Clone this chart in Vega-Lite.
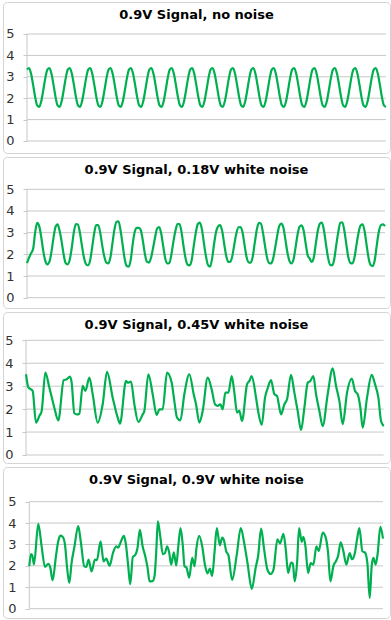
{
"$schema":"https://vega.github.io/schema/vega-lite/v6.json",
"padding":{"left":2,"top":1,"right":0,"bottom":2},
"spacing":2,
"config":{
 "view":{"stroke":"#d4d4d4","strokeWidth":1,"cornerRadius":4},
 "font":"DejaVu Sans",
 "title":{"font":"DejaVu Sans","fontSize":13,"fontWeight":"bold","color":"#000000","anchor":"middle","frame":"group","offset":-20,"baseline":"alphabetic"},
 "axis":{"labelFont":"DejaVu Sans","labelFontSize":13,"labelColor":"#333333","domain":false,"grid":false,"ticks":true,"tickSize":4,"tickColor":"#c8c8c8","labelPadding":9}
},
"datasets":{
"grid":[{"g":0},{"g":1},{"g":2},{"g":3},{"g":4},{"g":5}],
"p1":[{"t":0,"v":3.34},{"t":1,"v":3.41},{"t":2,"v":3.14},{"t":3,"v":2.62},{"t":4,"v":2.05},{"t":5,"v":1.66},{"t":6,"v":1.59},{"t":7,"v":1.86},{"t":8,"v":2.38},{"t":9,"v":2.95},
{"t":10,"v":3.34},{"t":11,"v":3.41},{"t":12,"v":3.14},{"t":13,"v":2.62},{"t":14,"v":2.05},{"t":15,"v":1.66},{"t":16,"v":1.59},{"t":17,"v":1.86},{"t":18,"v":2.38},{"t":19,"v":2.95},
{"t":20,"v":3.34},{"t":21,"v":3.41},{"t":22,"v":3.14},{"t":23,"v":2.62},{"t":24,"v":2.05},{"t":25,"v":1.66},{"t":26,"v":1.59},{"t":27,"v":1.86},{"t":28,"v":2.38},{"t":29,"v":2.95},
{"t":30,"v":3.34},{"t":31,"v":3.41},{"t":32,"v":3.14},{"t":33,"v":2.62},{"t":34,"v":2.05},{"t":35,"v":1.66},{"t":36,"v":1.59},{"t":37,"v":1.86},{"t":38,"v":2.38},{"t":39,"v":2.95},
{"t":40,"v":3.34},{"t":41,"v":3.41},{"t":42,"v":3.14},{"t":43,"v":2.62},{"t":44,"v":2.05},{"t":45,"v":1.66},{"t":46,"v":1.59},{"t":47,"v":1.86},{"t":48,"v":2.38},{"t":49,"v":2.95},
{"t":50,"v":3.34},{"t":51,"v":3.41},{"t":52,"v":3.14},{"t":53,"v":2.62},{"t":54,"v":2.05},{"t":55,"v":1.66},{"t":56,"v":1.59},{"t":57,"v":1.86},{"t":58,"v":2.38},{"t":59,"v":2.95},
{"t":60,"v":3.34},{"t":61,"v":3.41},{"t":62,"v":3.14},{"t":63,"v":2.62},{"t":64,"v":2.05},{"t":65,"v":1.66},{"t":66,"v":1.59},{"t":67,"v":1.86},{"t":68,"v":2.38},{"t":69,"v":2.95},
{"t":70,"v":3.34},{"t":71,"v":3.41},{"t":72,"v":3.14},{"t":73,"v":2.62},{"t":74,"v":2.05},{"t":75,"v":1.66},{"t":76,"v":1.59},{"t":77,"v":1.86},{"t":78,"v":2.38},{"t":79,"v":2.95},
{"t":80,"v":3.34},{"t":81,"v":3.41},{"t":82,"v":3.14},{"t":83,"v":2.62},{"t":84,"v":2.05},{"t":85,"v":1.66},{"t":86,"v":1.59},{"t":87,"v":1.86},{"t":88,"v":2.38},{"t":89,"v":2.95},
{"t":90,"v":3.34},{"t":91,"v":3.41},{"t":92,"v":3.14},{"t":93,"v":2.62},{"t":94,"v":2.05},{"t":95,"v":1.66},{"t":96,"v":1.59},{"t":97,"v":1.86},{"t":98,"v":2.38},{"t":99,"v":2.95},
{"t":100,"v":3.34},{"t":101,"v":3.41},{"t":102,"v":3.14},{"t":103,"v":2.62},{"t":104,"v":2.05},{"t":105,"v":1.66},{"t":106,"v":1.59},{"t":107,"v":1.86},{"t":108,"v":2.38},{"t":109,"v":2.95},
{"t":110,"v":3.34},{"t":111,"v":3.41},{"t":112,"v":3.14},{"t":113,"v":2.62},{"t":114,"v":2.05},{"t":115,"v":1.66},{"t":116,"v":1.59},{"t":117,"v":1.86},{"t":118,"v":2.38},{"t":119,"v":2.95},
{"t":120,"v":3.34},{"t":121,"v":3.41},{"t":122,"v":3.14},{"t":123,"v":2.62},{"t":124,"v":2.05},{"t":125,"v":1.66},{"t":126,"v":1.59},{"t":127,"v":1.86},{"t":128,"v":2.38},{"t":129,"v":2.95},
{"t":130,"v":3.34},{"t":131,"v":3.41},{"t":132,"v":3.14},{"t":133,"v":2.62},{"t":134,"v":2.05},{"t":135,"v":1.66},{"t":136,"v":1.59},{"t":137,"v":1.86},{"t":138,"v":2.38},{"t":139,"v":2.95},
{"t":140,"v":3.34},{"t":141,"v":3.41},{"t":142,"v":3.14},{"t":143,"v":2.62},{"t":144,"v":2.05},{"t":145,"v":1.66},{"t":146,"v":1.59},{"t":147,"v":1.86},{"t":148,"v":2.38},{"t":149,"v":2.95},
{"t":150,"v":3.34},{"t":151,"v":3.41},{"t":152,"v":3.14},{"t":153,"v":2.62},{"t":154,"v":2.05},{"t":155,"v":1.66},{"t":156,"v":1.59},{"t":157,"v":1.86},{"t":158,"v":2.38},{"t":159,"v":2.95},
{"t":160,"v":3.34},{"t":161,"v":3.41},{"t":162,"v":3.14},{"t":163,"v":2.62},{"t":164,"v":2.05},{"t":165,"v":1.66},{"t":166,"v":1.59},{"t":167,"v":1.86},{"t":168,"v":2.38},{"t":169,"v":2.95},
{"t":170,"v":3.34},{"t":171,"v":3.41},{"t":172,"v":3.14},{"t":173,"v":2.62},{"t":174,"v":2.05},{"t":175,"v":1.66},{"t":176,"v":1.59}],
"p2":[{"t":0,"v":1.6},{"t":1,"v":1.85},{"t":2,"v":2.05},{"t":3,"v":2.25},{"t":4,"v":3.0},{"t":5,"v":3.45},{"t":6,"v":3.3},{"t":7,"v":2.8},{"t":8,"v":2.15},{"t":9,"v":1.7},
{"t":10,"v":1.54},{"t":11,"v":1.65},{"t":12,"v":2.1},{"t":13,"v":2.75},{"t":14,"v":3.25},{"t":15,"v":3.38},{"t":16,"v":3.1},{"t":17,"v":2.6},{"t":18,"v":2.0},{"t":19,"v":1.6},
{"t":20,"v":1.54},{"t":21,"v":1.75},{"t":22,"v":2.3},{"t":23,"v":3.0},{"t":24,"v":3.4},{"t":25,"v":3.38},{"t":26,"v":3.0},{"t":27,"v":2.4},{"t":28,"v":1.85},{"t":29,"v":1.55},
{"t":30,"v":1.49},{"t":31,"v":1.7},{"t":32,"v":2.3},{"t":33,"v":2.95},{"t":34,"v":3.35},{"t":35,"v":3.35},{"t":36,"v":3.0},{"t":37,"v":2.4},{"t":38,"v":1.9},{"t":39,"v":1.62},
{"t":40,"v":1.58},{"t":41,"v":1.85},{"t":42,"v":2.5},{"t":43,"v":3.15},{"t":44,"v":3.5},{"t":45,"v":3.52},{"t":46,"v":3.1},{"t":47,"v":2.45},{"t":48,"v":1.8},{"t":49,"v":1.47},
{"t":50,"v":1.43},{"t":51,"v":1.75},{"t":52,"v":2.5},{"t":53,"v":3.05},{"t":54,"v":3.22},{"t":55,"v":3.22},{"t":56,"v":3.1},{"t":57,"v":2.6},{"t":58,"v":2.0},{"t":59,"v":1.65},
{"t":60,"v":1.62},{"t":61,"v":1.85},{"t":62,"v":2.3},{"t":63,"v":2.8},{"t":64,"v":3.2},{"t":65,"v":3.26},{"t":66,"v":2.95},{"t":67,"v":2.35},{"t":68,"v":1.8},{"t":69,"v":1.58},
{"t":70,"v":1.6},{"t":71,"v":2.0},{"t":72,"v":2.6},{"t":73,"v":3.1},{"t":74,"v":3.4},{"t":75,"v":3.4},{"t":76,"v":3.0},{"t":77,"v":2.35},{"t":78,"v":1.8},{"t":79,"v":1.52},
{"t":80,"v":1.49},{"t":81,"v":1.75},{"t":82,"v":2.4},{"t":83,"v":3.0},{"t":84,"v":3.4},{"t":85,"v":3.46},{"t":86,"v":3.15},{"t":87,"v":2.5},{"t":88,"v":1.9},{"t":89,"v":1.5},
{"t":90,"v":1.43},{"t":91,"v":1.8},{"t":92,"v":2.5},{"t":93,"v":3.05},{"t":94,"v":3.3},{"t":95,"v":3.35},{"t":96,"v":3.05},{"t":97,"v":2.45},{"t":98,"v":1.9},{"t":99,"v":1.65},
{"t":100,"v":1.66},{"t":101,"v":1.95},{"t":102,"v":2.5},{"t":103,"v":3.0},{"t":104,"v":3.25},{"t":105,"v":3.26},{"t":106,"v":3.0},{"t":107,"v":2.4},{"t":108,"v":1.85},{"t":109,"v":1.63},
{"t":110,"v":1.62},{"t":111,"v":1.9},{"t":112,"v":2.55},{"t":113,"v":3.15},{"t":114,"v":3.45},{"t":115,"v":3.42},{"t":116,"v":3.0},{"t":117,"v":2.4},{"t":118,"v":1.85},{"t":119,"v":1.6},
{"t":120,"v":1.58},{"t":121,"v":1.8},{"t":122,"v":2.3},{"t":123,"v":2.85},{"t":124,"v":3.3},{"t":125,"v":3.42},{"t":126,"v":3.25},{"t":127,"v":2.7},{"t":128,"v":2.1},{"t":129,"v":1.7},
{"t":130,"v":1.58},{"t":131,"v":1.75},{"t":132,"v":2.3},{"t":133,"v":2.9},{"t":134,"v":3.28},{"t":135,"v":3.34},{"t":136,"v":3.1},{"t":137,"v":2.5},{"t":138,"v":1.95},{"t":139,"v":1.8},
{"t":140,"v":1.65},{"t":141,"v":1.85},{"t":142,"v":2.5},{"t":143,"v":3.1},{"t":144,"v":3.42},{"t":145,"v":3.46},{"t":146,"v":3.1},{"t":147,"v":2.45},{"t":148,"v":1.85},{"t":149,"v":1.52},
{"t":150,"v":1.49},{"t":151,"v":1.75},{"t":152,"v":2.4},{"t":153,"v":3.0},{"t":154,"v":3.45},{"t":155,"v":3.48},{"t":156,"v":3.1},{"t":157,"v":2.45},{"t":158,"v":1.85},{"t":159,"v":1.6},
{"t":160,"v":1.58},{"t":161,"v":1.85},{"t":162,"v":2.45},{"t":163,"v":3.0},{"t":164,"v":3.33},{"t":165,"v":3.38},{"t":166,"v":3.05},{"t":167,"v":2.4},{"t":168,"v":1.8},{"t":169,"v":1.5},
{"t":170,"v":1.46},{"t":171,"v":1.75},{"t":172,"v":2.45},{"t":173,"v":3.05},{"t":174,"v":3.35},{"t":175,"v":3.38},{"t":176,"v":3.3}],
"p3":[{"t":0,"v":3.52},{"t":1.15,"v":2.95},{"t":2.46,"v":2.86},{"t":3.28,"v":2.79},{"t":4.92,"v":1.41},{"t":6.56,"v":1.7},{"t":7.71,"v":1.92},{"t":9.51,"v":3.59},{"t":11.48,"v":2.94},{"t":12.3,"v":2.65},{"t":13.94,"v":2.06},{"t":15.91,"v":1.51},{"t":18.54,"v":3.26},{"t":20.01,"v":3.3},{"t":21.65,"v":3.42},{"t":22.47,"v":3.15},{"t":23.78,"v":1.82},{"t":25.1,"v":1.77},{"t":26.24,"v":1.8},{"t":27.89,"v":3.01},{"t":29.2,"v":2.79},{"t":31.17,"v":3.37},{"t":32.81,"v":2.65},{"t":35.27,"v":1.41},{"t":37.73,"v":2.21},{"t":39.86,"v":3.62},{"t":42.65,"v":2.5},{"t":45.11,"v":1.63},{"t":46.26,"v":1.37},{"t":49.21,"v":3.23},{"t":50.03,"v":3.15},{"t":51.67,"v":3.2},{"t":53.31,"v":2.21},{"t":55.28,"v":1.44},{"t":57.41,"v":1.77},{"t":58.23,"v":1.92},{"t":60.2,"v":3.52},{"t":62.33,"v":2.65},{"t":64.3,"v":1.74},{"t":65.61,"v":1.99},{"t":67.25,"v":1.99},{"t":69.38,"v":3.59},{"t":71.68,"v":3.15},{"t":72.99,"v":2.35},{"t":74.31,"v":1.63},{"t":75.95,"v":1.51},{"t":77.91,"v":2.65},{"t":80.37,"v":3.52},{"t":82.51,"v":2.65},{"t":83.66,"v":2.21},{"t":85.3,"v":1.41},{"t":86.94,"v":1.92},{"t":89.4,"v":3.37},{"t":91.36,"v":2.86},{"t":93.01,"v":2.21},{"t":94.32,"v":2.14},{"t":95.63,"v":2.21},{"t":96.78,"v":1.99},{"t":98.09,"v":2.72},{"t":99.57,"v":2.72},{"t":101.21,"v":3.44},{"t":102.52,"v":2.72},{"t":103.83,"v":1.85},{"t":104.98,"v":1.92},{"t":106.29,"v":1.48},{"t":108.75,"v":3.08},{"t":109.9,"v":3.23},{"t":111.05,"v":3.44},{"t":113.18,"v":2.5},{"t":114.33,"v":1.85},{"t":115.97,"v":1.31},{"t":117.61,"v":2.5},{"t":118.92,"v":2.91},{"t":120.56,"v":3.26},{"t":122.2,"v":2.65},{"t":123.51,"v":2.57},{"t":125.48,"v":1.77},{"t":127.12,"v":2.21},{"t":128.44,"v":2.43},{"t":130.4,"v":3.49},{"t":132.04,"v":2.72},{"t":133.68,"v":1.92},{"t":135.32,"v":1.08},{"t":136.97,"v":2.06},{"t":138.61,"v":3.15},{"t":139.92,"v":3.23},{"t":141.39,"v":3.44},{"t":142.71,"v":2.65},{"t":144.35,"v":1.92},{"t":145.99,"v":1.26},{"t":148.45,"v":2.65},{"t":150.91,"v":3.78},{"t":152.55,"v":3.01},{"t":154.19,"v":2.35},{"t":155.83,"v":1.34},{"t":157.96,"v":2.72},{"t":160.26,"v":3.33},{"t":161.9,"v":2.79},{"t":163.21,"v":2.65},{"t":164.52,"v":2.06},{"t":165.67,"v":1.19},{"t":167.8,"v":2.5},{"t":170.1,"v":3.49},{"t":171.74,"v":3.08},{"t":173.38,"v":2.5},{"t":174.69,"v":1.48},{"t":176,"v":1.26}],
"p4":[{"t":0,"v":1.99},{"t":0.83,"v":2.55},{"t":1.49,"v":2.49},{"t":2.32,"v":2.06},{"t":4.47,"v":3.96},{"t":6.13,"v":2.91},{"t":7.79,"v":1.95},{"t":9.45,"v":2.1},{"t":10.44,"v":1.92},{"t":11.6,"v":1.32},{"t":13.26,"v":2.45},{"t":14.42,"v":3.16},{"t":15.41,"v":3.41},{"t":16.57,"v":3.36},{"t":17.73,"v":3.01},{"t":18.73,"v":1.99},{"t":19.89,"v":1.2},{"t":21.05,"v":2.15},{"t":22.37,"v":2.85},{"t":24.36,"v":3.86},{"t":25.69,"v":3.08},{"t":27.35,"v":1.98},{"t":28.34,"v":1.95},{"t":29.5,"v":2.29},{"t":30.99,"v":1.74},{"t":32.65,"v":2.29},{"t":33.64,"v":2.27},{"t":35.47,"v":3.15},{"t":36.96,"v":2.21},{"t":38.28,"v":2.34},{"t":39.94,"v":2.01},{"t":41.6,"v":2.59},{"t":43.26,"v":2.91},{"t":44.25,"v":2.85},{"t":45.24,"v":3.05},{"t":47.07,"v":3.4},{"t":48.06,"v":3.01},{"t":49.22,"v":1.99},{"t":50.22,"v":1.14},{"t":51.54,"v":2.43},{"t":52.54,"v":2.49},{"t":53.86,"v":2.85},{"t":55.02,"v":3.68},{"t":56.35,"v":2.93},{"t":57.67,"v":2.46},{"t":58.83,"v":1.92},{"t":59.83,"v":1.28},{"t":61.32,"v":1.29},{"t":62.31,"v":1.53},{"t":63.14,"v":2.62},{"t":63.97,"v":4.08},{"t":65.13,"v":3.4},{"t":66.46,"v":2.55},{"t":67.45,"v":2.59},{"t":68.61,"v":2.91},{"t":69.61,"v":2.62},{"t":70.6,"v":2.06},{"t":71.93,"v":2.63},{"t":73.09,"v":2.02},{"t":74.08,"v":2.85},{"t":75.24,"v":3.77},{"t":76.4,"v":2.93},{"t":77.23,"v":1.99},{"t":78.22,"v":1.92},{"t":79.55,"v":1.45},{"t":81.04,"v":2.37},{"t":82.2,"v":1.99},{"t":83.2,"v":2.85},{"t":84.52,"v":3.4},{"t":86.01,"v":2.93},{"t":87.5,"v":1.99},{"t":88.67,"v":1.65},{"t":89.83,"v":1.87},{"t":90.99,"v":1.53},{"t":92.15,"v":2.62},{"t":93.31,"v":3.77},{"t":94.8,"v":2.96},{"t":95.96,"v":3.32},{"t":96.95,"v":3.16},{"t":97.95,"v":2.69},{"t":99.11,"v":2.49},{"t":100.93,"v":1.34},{"t":103.25,"v":2.54},{"t":105.24,"v":3.77},{"t":106.9,"v":3.08},{"t":108.55,"v":2.15},{"t":110.71,"v":0.93},{"t":112.7,"v":1.95},{"t":113.86,"v":2.46},{"t":115.35,"v":3.74},{"t":116.84,"v":2.77},{"t":118.5,"v":1.82},{"t":120.15,"v":1.62},{"t":121.48,"v":1.81},{"t":123.47,"v":3.24},{"t":124.79,"v":3.05},{"t":126.45,"v":3.5},{"t":127.61,"v":2.77},{"t":128.77,"v":1.67},{"t":130.26,"v":2.15},{"t":131.09,"v":2.12},{"t":132.09,"v":1.28},{"t":133.25,"v":2.15},{"t":134.24,"v":3.77},{"t":135.57,"v":3.12},{"t":136.4,"v":3.36},{"t":137.39,"v":2.93},{"t":138.72,"v":1.67},{"t":140.04,"v":2.13},{"t":141.37,"v":2.06},{"t":142.86,"v":2.91},{"t":144.02,"v":2.69},{"t":146.01,"v":3.55},{"t":147.5,"v":3.32},{"t":148.66,"v":2.62},{"t":149.82,"v":1.28},{"t":151.31,"v":1.99},{"t":152.64,"v":2.23},{"t":153.63,"v":2.46},{"t":154.96,"v":3.1},{"t":156.28,"v":2.69},{"t":157.77,"v":2.06},{"t":159.43,"v":2.6},{"t":160.59,"v":2.31},{"t":161.92,"v":2.57},{"t":163.08,"v":3.24},{"t":164.24,"v":3.77},{"t":165.73,"v":2.68},{"t":167.06,"v":2.62},{"t":168.22,"v":2.13},{"t":169.38,"v":0.5},{"t":170.37,"v":1.99},{"t":171.2,"v":2.37},{"t":172.36,"v":2.06},{"t":173.36,"v":2.59},{"t":174.68,"v":3.82},{"t":176,"v":3.27}]
},
"vconcat":[
{"title":"0.9V Signal, no noise","width":387,"height":151,
 "layer":[
  {"data":{"name":"grid"},"mark":{"type":"rule","color":"#c8c8c8","strokeWidth":1},
   "encoding":{"x":{"datum":0,"type":"quantitative","scale":{"domain":[-11.77,177.96],"nice":false,"zero":false},"axis":null},"x2":{"datum":176},
    "y":{"field":"g","type":"quantitative","scale":{"domain":[-0.561,6.495],"nice":false,"zero":false},"axis":{"values":[0,1,2,3,4,5],"offset":-24,"title":null}}}},
  {"data":{"values":[{"lo":0,"hi":5}]},"mark":{"type":"rule","color":"#c8c8c8","strokeWidth":1},
   "encoding":{"x":{"datum":0,"type":"quantitative","scale":{"domain":[-11.77,177.96],"nice":false,"zero":false},"axis":null},
    "y":{"field":"lo","type":"quantitative","scale":{"domain":[-0.561,6.495],"nice":false,"zero":false},"axis":{"values":[0,1,2,3,4,5],"offset":-24,"title":null}},"y2":{"field":"hi"}}},
  {"data":{"name":"p1"},"mark":{"type":"line","color":"#00b050","strokeWidth":2.2,"interpolate":"monotone"},
   "encoding":{"x":{"field":"t","type":"quantitative","scale":{"domain":[-11.77,177.96],"nice":false,"zero":false},"axis":null},
    "y":{"field":"v","type":"quantitative","scale":{"domain":[-0.561,6.495],"nice":false,"zero":false},"axis":{"values":[0,1,2,3,4,5],"offset":-24,"title":null}}}}
 ]},
{"title":"0.9V Signal, 0.18V white noise","width":387,"height":151,
 "layer":[
  {"data":{"name":"grid"},"mark":{"type":"rule","color":"#c8c8c8","strokeWidth":1},
   "encoding":{"x":{"datum":0,"type":"quantitative","scale":{"domain":[-11.8,178.46],"nice":false,"zero":false},"axis":null},"x2":{"datum":176},
    "y":{"field":"g","type":"quantitative","scale":{"domain":[-0.475,6.49],"nice":false,"zero":false},"axis":{"values":[0,1,2,3,4,5],"offset":-24,"title":null}}}},
  {"data":{"values":[{"lo":0,"hi":5}]},"mark":{"type":"rule","color":"#c8c8c8","strokeWidth":1},
   "encoding":{"x":{"datum":0,"type":"quantitative","scale":{"domain":[-11.8,178.46],"nice":false,"zero":false},"axis":null},
    "y":{"field":"lo","type":"quantitative","scale":{"domain":[-0.475,6.49],"nice":false,"zero":false},"axis":{"values":[0,1,2,3,4,5],"offset":-24,"title":null}},"y2":{"field":"hi"}}},
  {"data":{"name":"p2"},"mark":{"type":"line","color":"#00b050","strokeWidth":2.2,"interpolate":"monotone"},
   "encoding":{"x":{"field":"t","type":"quantitative","scale":{"domain":[-11.8,178.46],"nice":false,"zero":false},"axis":null},
    "y":{"field":"v","type":"quantitative","scale":{"domain":[-0.475,6.49],"nice":false,"zero":false},"axis":{"values":[0,1,2,3,4,5],"offset":-24,"title":null}}}}
 ]},
{"title":"0.9V Signal, 0.45V white noise","width":387,"height":151,
 "layer":[
  {"data":{"name":"grid"},"mark":{"type":"rule","color":"#c8c8c8","strokeWidth":1},
   "encoding":{"x":{"datum":0,"type":"quantitative","scale":{"domain":[-11.32,179.1],"nice":false,"zero":false},"axis":null},"x2":{"datum":176},
    "y":{"field":"g","type":"quantitative","scale":{"domain":[-0.349,6.234],"nice":false,"zero":false},"axis":{"values":[0,1,2,3,4,5],"offset":-23,"title":null}}}},
  {"data":{"values":[{"lo":0,"hi":5}]},"mark":{"type":"rule","color":"#c8c8c8","strokeWidth":1},
   "encoding":{"x":{"datum":0,"type":"quantitative","scale":{"domain":[-11.32,179.1],"nice":false,"zero":false},"axis":null},
    "y":{"field":"lo","type":"quantitative","scale":{"domain":[-0.349,6.234],"nice":false,"zero":false},"axis":{"values":[0,1,2,3,4,5],"offset":-23,"title":null}},"y2":{"field":"hi"}}},
  {"data":{"name":"p3"},"mark":{"type":"line","color":"#00b050","strokeWidth":2.2,"interpolate":"monotone"},
   "encoding":{"x":{"field":"t","type":"quantitative","scale":{"domain":[-11.32,179.1],"nice":false,"zero":false},"axis":null},
    "y":{"field":"v","type":"quantitative","scale":{"domain":[-0.349,6.234],"nice":false,"zero":false},"axis":{"values":[0,1,2,3,4,5],"offset":-23,"title":null}}}}
 ]},
{"title":"0.9V Signal, 0.9V white noise","width":387,"height":151,
 "layer":[
  {"data":{"name":"grid"},"mark":{"type":"rule","color":"#c8c8c8","strokeWidth":1},
   "encoding":{"x":{"datum":0,"type":"quantitative","scale":{"domain":[-13.09,179.48],"nice":false,"zero":false},"axis":null},"x2":{"datum":176},
    "y":{"field":"g","type":"quantitative","scale":{"domain":[-0.435,6.62],"nice":false,"zero":false},"axis":{"values":[0,1,2,3,4,5],"offset":-26,"title":null}}}},
  {"data":{"values":[{"lo":0,"hi":5}]},"mark":{"type":"rule","color":"#c8c8c8","strokeWidth":1},
   "encoding":{"x":{"datum":0,"type":"quantitative","scale":{"domain":[-13.09,179.48],"nice":false,"zero":false},"axis":null},
    "y":{"field":"lo","type":"quantitative","scale":{"domain":[-0.435,6.62],"nice":false,"zero":false},"axis":{"values":[0,1,2,3,4,5],"offset":-26,"title":null}},"y2":{"field":"hi"}}},
  {"data":{"name":"p4"},"mark":{"type":"line","color":"#00b050","strokeWidth":2.2,"interpolate":"monotone"},
   "encoding":{"x":{"field":"t","type":"quantitative","scale":{"domain":[-13.09,179.48],"nice":false,"zero":false},"axis":null},
    "y":{"field":"v","type":"quantitative","scale":{"domain":[-0.435,6.62],"nice":false,"zero":false},"axis":{"values":[0,1,2,3,4,5],"offset":-26,"title":null}}}}
 ]}
]
}
